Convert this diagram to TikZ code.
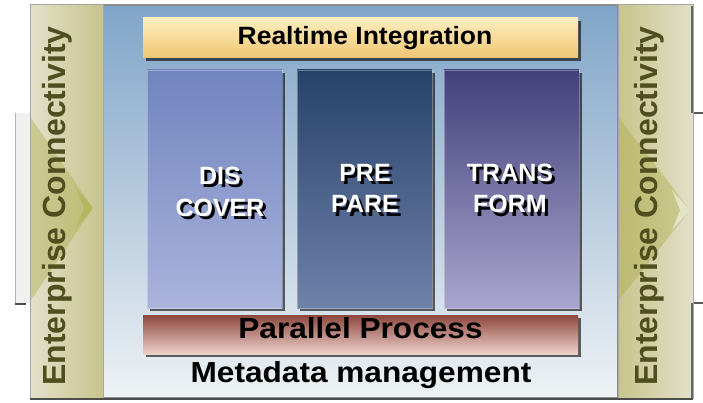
\documentclass[tikz,border=0pt]{standalone}
\usepackage{fontspec}
\setmainfont{Liberation Sans}
\usepackage{graphicx}
\definecolor{disTop}{RGB}{112,132,190}
\definecolor{disBot}{RGB}{170,180,220}
\definecolor{preTop}{RGB}{40,66,106}
\definecolor{preBot}{RGB}{110,130,170}
\definecolor{traTop}{RGB}{66,64,124}
\definecolor{traBot}{RGB}{170,165,205}
\definecolor{barTop}{RGB}{252,238,190}
\definecolor{barBot}{RGB}{240,198,115}
\definecolor{parTop}{RGB}{140,72,62}
\definecolor{parBot}{RGB}{238,208,203}
\definecolor{bgTop}{RGB}{128,164,200}
\definecolor{bgBot}{RGB}{238,242,244}
\definecolor{khakiL}{RGB}{226,224,202}
\definecolor{khakiR}{RGB}{200,196,140}
\definecolor{oliveTri}{RGB}{175,175,80}
\definecolor{oliveText}{RGB}{78,78,30}
\newcommand{\shtext}[1]{\rlap{\kern3pt\raisebox{-3pt}{\textcolor{black}{#1}}}#1}
\tikzset{
  boxbase/.style={rectangle, draw=none, inner sep=0pt, outer sep=0pt, anchor=north west},
  shadowbox/.style={boxbase, fill=black, fill opacity=0.6},
  coltext/.style={text=white, font=\fontsize{25}{30}\selectfont\bfseries, anchor=base, inner sep=0pt},
  bartext/.style={text=black, anchor=base, inner sep=0pt},
  sidetext/.style={text=oliveText, font=\fontsize{32}{36}\selectfont\bfseries, rotate=90, anchor=base, inner sep=0pt},
}
\begin{document}
\begin{tikzpicture}[x=1pt,y=-1pt]
\useasboundingbox (0,0) rectangle (703,403);
% left arrow body outside panel
\fill[gray!12] (15,113) -- (32,113) -- (32,303) -- (15,303) -- cycle;
\draw[gray!60, line width=1pt] (15,113) -- (15,303);
\draw[black!70, line width=2pt] (15,304) -- (26,304);
% right arrow body outside panel
\node[boxbase, fill=white, draw=black!65, line width=1.5pt, minimum width=20pt, minimum height=190pt] (rbody) at (693,113) {};
% main panel
\node[boxbase, top color=bgTop, bottom color=bgBot, draw=black!45, line width=1.5pt, minimum width=515pt, minimum height=393pt] (main) at (103,5) {};
% side panels
\node[boxbase, left color=khakiL, right color=khakiR, draw=black!35, line width=1pt, minimum width=73pt, minimum height=393pt] (lpanel) at (30,5) {};
\node[boxbase, left color=khakiR, right color=khakiL, draw=black!35, line width=1pt, minimum width=75pt, minimum height=393pt] (rpanel) at (618,5) {};
\draw[black!70, line width=2pt] (30,399) -- (693,399);
\draw[black!60, line width=2pt] (692,6) -- (692,113);
\draw[black!60, line width=2pt] (692,303) -- (692,398);
% arrow heads inside side panels
\fill[oliveTri, fill opacity=0.45] (31,118) -- (93,208) -- (31,300) -- cycle;
\fill[oliveTri, fill opacity=0.6] (76,188) -- (93,208) -- (76,228) -- (84,208) -- cycle;
\fill[oliveTri, fill opacity=0.45] (619,118) -- (690,210) -- (619,300) -- cycle;
\fill[white, fill opacity=0.5] (672,190) -- (690,210) -- (672,230) -- (680,210) -- cycle;
% side texts
\node[sidetext] (ltext) at (65,206) {Enterprise Connectivity};
\node[sidetext] (rtext) at (657,206) {Enterprise Connectivity};
% top bar
\node[shadowbox, minimum width=435pt, minimum height=40pt] (topsh) at (146,21) {};
\node[boxbase, top color=barTop, bottom color=barBot, minimum width=435pt, minimum height=40pt] (topbar) at (143,18) {};
\node[bartext, font=\fontsize{25}{30}\selectfont\bfseries] (toptext) at (365,45) {\scalebox{1.06}[1]{Realtime Integration}};
% columns
\node[shadowbox, minimum width=135pt, minimum height=238pt] (dissh) at (150,73) {};
\node[boxbase, top color=disTop, bottom color=disBot, draw=white, draw opacity=0.3, minimum width=135pt, minimum height=238pt] (dis) at (147,70) {};
\node[shadowbox, minimum width=135pt, minimum height=238pt] (presh) at (300,73) {};
\node[boxbase, top color=preTop, bottom color=preBot, draw=white, draw opacity=0.3, minimum width=135pt, minimum height=238pt] (pre) at (297,70) {};
\node[shadowbox, minimum width=135pt, minimum height=238pt] (trash) at (447,73) {};
\node[boxbase, top color=traTop, bottom color=traBot, draw=white, draw opacity=0.3, minimum width=135pt, minimum height=238pt] (tra) at (444,70) {};
% column texts (white with black drop shadow)
\node[coltext] (dis1) at (220,185) {\shtext{DIS}};
\node[coltext] (dis2) at (220,216) {\shtext{COVER}};
\node[coltext] (pre1) at (365,182) {\shtext{PRE}};
\node[coltext] (pre2) at (365,213) {\shtext{PARE}};
\node[coltext] (tra1) at (510,182) {\shtext{TRANS}};
\node[coltext] (tra2) at (510,213) {\shtext{FORM}};
% parallel bar
\node[shadowbox, minimum width=435pt, minimum height=39pt] (parsh) at (146,318) {};
\node[boxbase, top color=parTop, bottom color=parBot, minimum width=435pt, minimum height=39pt] (parbar) at (143,315) {};
\node[bartext, font=\fontsize{29}{34}\selectfont\bfseries] (partext) at (360.5,338) {\scalebox{1.09}[1]{Parallel Process}};
% metadata
\node[bartext, font=\fontsize{29}{34}\selectfont\bfseries] (metatext) at (361,382) {\scalebox{1.09}[1]{Metadata management}};
\end{tikzpicture}
\end{document}
